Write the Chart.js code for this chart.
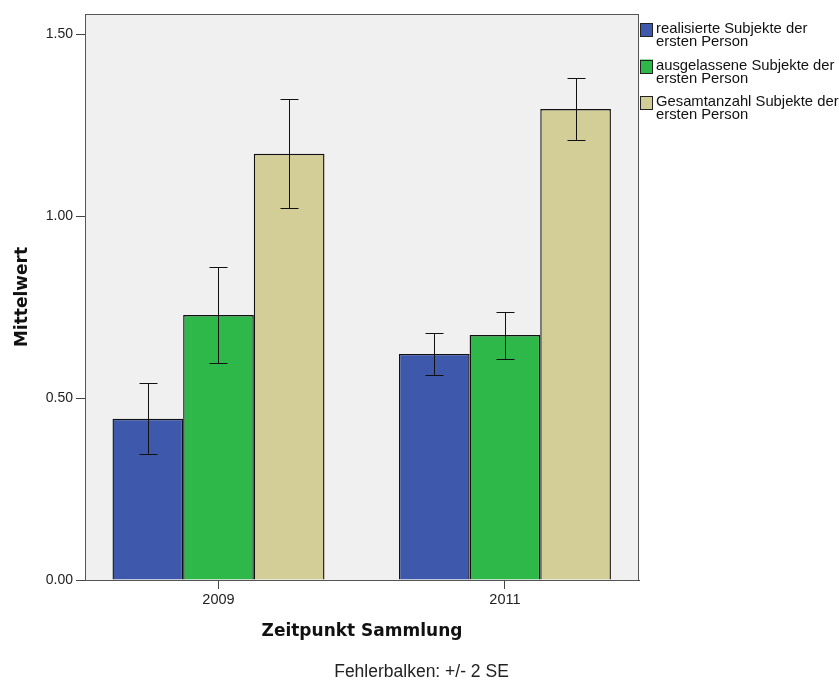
<!DOCTYPE html>
<html>
<head>
<meta charset="utf-8">
<script src="https://cdn.jsdelivr.net/npm/chart.js@4.4.1/dist/chart.umd.min.js"></script>
<style>
  html, body { margin: 0; padding: 0; background: #fff; }
  #wrap { width: 839px; height: 681px; }
</style>
</head>
<body>
<div id="wrap"><canvas id="chart" width="839" height="681"></canvas></div>
<script>
// categories
const years = ['2009', '2011'];
const yearPos = [0, 1];

// means
const realisiert = [0.443, 0.621];
const ausgelassen = [0.728, 0.673];
const gesamt = [1.171, 1.294];

// error bars (+/- 2 SE)
const realisiertLow = [0.345, 0.563];
const realisiertHigh = [0.541, 0.678];
const ausgelassenLow = [0.597, 0.608];
const ausgelassenHigh = [0.861, 0.736];
const gesamtLow = [1.023, 1.209];
const gesamtHigh = [1.321, 1.378];

const yTicks = [0, 0.5, 1.0, 1.5];

const legendLines = [
  ['realisierte Subjekte der', 'ersten Person'],
  ['ausgelassene Subjekte der', 'ersten Person'],
  ['Gesamtanzahl Subjekte der', 'ersten Person']
];
const colors = ['#3e58ac', '#2eb84a', '#d3ce97'];
const footerText = 'Fehlerbalken: +/- 2 SE';

const means = [realisiert, ausgelassen, gesamt];
const lows = [realisiertLow, ausgelassenLow, gesamtLow];
const highs = [realisiertHigh, ausgelassenHigh, gesamtHigh];

const textFont = 'Liberation Sans, Arial, sans-serif';
const titleFont = 'DejaVu Sans, sans-serif';

// grey plot background + frame
const plotBg = {
  id: 'plotBg',
  beforeDatasetsDraw(chart) {
    const { ctx, chartArea: a } = chart;
    ctx.save();
    ctx.fillStyle = '#f0f0f0';
    ctx.fillRect(a.left, a.top, a.right - a.left, a.bottom - a.top);
    ctx.restore();
  },
  afterDatasetsDraw(chart) {
    const { ctx, chartArea: a } = chart;
    ctx.save();
    ctx.strokeStyle = '#555';
    ctx.lineWidth = 1;
    ctx.strokeRect(Math.round(a.left) + 0.5, Math.round(a.top) + 0.5,
      Math.round(a.right - a.left) - 1, Math.round(a.bottom - a.top));
    ctx.restore();
  }
};

const errorBars = {
  id: 'errorBars',
  afterDatasetsDraw(chart) {
    const { ctx } = chart;
    const y = chart.scales.y;
    ctx.save();
    ctx.strokeStyle = '#111';
    ctx.lineWidth = 1;
    chart.data.datasets.forEach((ds, i) => {
      const meta = chart.getDatasetMeta(i);
      meta.data.forEach((bar, j) => {
        const x = Math.round(bar.x) + 0.5;
        const top = Math.round(y.getPixelForValue(highs[i][j])) + 0.5;
        const bot = Math.round(y.getPixelForValue(lows[i][j])) + 0.5;
        ctx.beginPath();
        ctx.moveTo(x, top); ctx.lineTo(x, bot);
        ctx.moveTo(x - 9, top); ctx.lineTo(x + 9, top);
        ctx.moveTo(x - 9, bot); ctx.lineTo(x + 9, bot);
        ctx.stroke();
      });
    });
    ctx.restore();
  }
};

const sideLegend = {
  id: 'sideLegend',
  afterDraw(chart) {
    const { ctx, chartArea: a, width, height } = chart;
    const x0 = Math.round(a.right) + 1;
    ctx.save();
    ctx.font = '14.8px ' + textFont;
    ctx.textBaseline = 'middle';
    chart.data.datasets.forEach((ds, i) => {
      const top = 23 + i * 36.5;
      ctx.fillStyle = ds.backgroundColor;
      ctx.fillRect(x0, top, 13, 14);
      ctx.strokeStyle = '#222';
      ctx.lineWidth = 1;
      ctx.strokeRect(x0 + 0.5, Math.round(top) + 0.5, 12, 13);
      ctx.fillStyle = '#111';
      legendLines[i].forEach((line, k) => {
        ctx.fillText(line, x0 + 16, top + 6 + k * 13);
      });
    });
    // footer note, centred on the whole image
    ctx.font = '17.5px ' + textFont;
    ctx.textAlign = 'center';
    ctx.fillStyle = '#222';
    ctx.fillText(footerText, width / 2 + 2, height - 9);
    ctx.restore();
  }
};

const datasets = means.map((vals, i) => ({
  label: legendLines[i].join(' '),
  data: yearPos.map((p, j) => ({ x: p, y: vals[j] })),
  backgroundColor: colors[i],
  borderColor: '#111',
  borderWidth: 1.4,
  categoryPercentage: 0.74,
  barPercentage: 1.0
}));

new Chart(document.getElementById('chart'), {
  type: 'bar',
  data: { datasets },
  options: {
    responsive: false,
    animation: false,
    layout: { padding: { top: 14, right: 200, left: 0, bottom: 0 } },
    plugins: {
      legend: { display: false },
      tooltip: { enabled: false }
    },
    scales: {
      x: {
        type: 'linear',
        min: -0.466,
        max: 1.468,
        offset: false,
        afterBuildTicks: (axis) => { axis.ticks = yearPos.map(v => ({ value: v })); },
        afterFit: (axis) => { axis.height = 101; },
        ticks: {
          callback: (v) => years[v],
          color: '#222',
          padding: 2,
          maxRotation: 0,
          font: { family: textFont, size: 14.5 }
        },
        grid: { drawOnChartArea: false, drawTicks: true, tickLength: 9, color: '#444', offset: false },
        border: { color: '#444' },
        title: {
          display: true,
          text: 'Zeitpunkt Sammlung',
          color: '#111',
          font: { family: titleFont, size: 17, weight: 'bold' },
          padding: { top: 4, bottom: 39.5 }
        }
      },
      y: {
        min: 0,
        max: 1.555,
        afterBuildTicks: (axis) => { axis.ticks = yTicks.map(v => ({ value: v })); },
        afterFit: (axis) => { axis.width = 85; },
        ticks: {
          callback: (v) => v.toFixed(2),
          color: '#222',
          padding: 3,
          font: { family: textFont, size: 14 }
        },
        grid: { drawOnChartArea: false, drawTicks: true, tickLength: 9, color: '#444' },
        border: { color: '#444' },
        title: {
          display: true,
          text: 'Mittelwert',
          color: '#111',
          font: { family: titleFont, size: 17, weight: 'bold' },
          padding: { top: 12, bottom: 0 }
        }
      }
    }
  },
  plugins: [plotBg, errorBars, sideLegend]
});
</script>
</body>
</html>
